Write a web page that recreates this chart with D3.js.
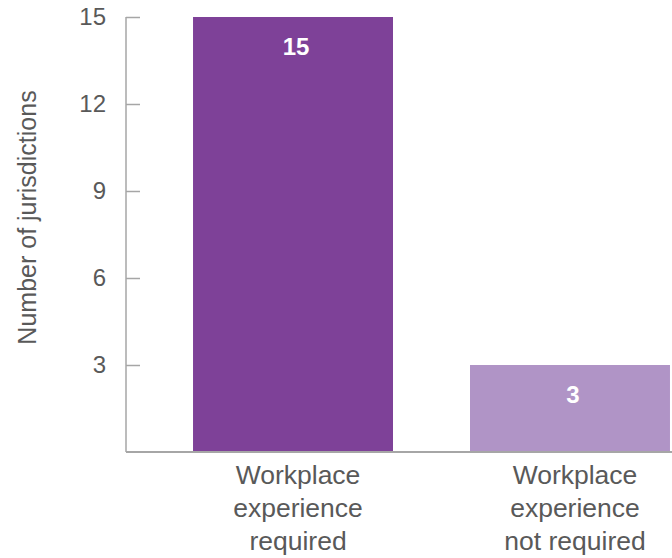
<!DOCTYPE html>
<html>
<head>
<meta charset="utf-8">
<script src="https://cdn.jsdelivr.net/npm/d3@7"></script>
<style>
  html, body { margin: 0; padding: 0; background: #ffffff; }
  svg { display: block; font-family: "Liberation Sans", Arial, sans-serif; }
</style>
</head>
<body>
<svg id="chart" width="672" height="558"></svg>
<script>
// Jurisdictions by workplace experience requirement
const categories = [
  ["Workplace", "experience", "required"],
  ["Workplace", "experience", "not required"]
];
const values = [15, 3];
const barColors = ["#7e4198", "#b094c6"];
const yTicks = [3, 6, 9, 12, 15];
const yTitle = "Number of jurisdictions";

const svg = d3.select("#chart");
const keys = categories.map(c => c.join(" "));

const x = d3.scaleBand()
  .domain(keys)
  .range([126, 737])
  .paddingInner(0.278)
  .paddingOuter(0.242);

const y = d3.scaleLinear().domain([0, 15]).range([452, 17]);

const axisColor = "#a6a6a6";
const textColor = "#595959";

// Bars
svg.selectAll("rect.bar")
  .data(values)
  .join("rect")
  .attr("class", "bar")
  .attr("x", (d, i) => x(keys[i]))
  .attr("y", d => y(d))
  .attr("width", x.bandwidth())
  .attr("height", d => y(0) - y(d))
  .attr("fill", (d, i) => barColors[i]);

// Value labels inside the bars
svg.selectAll("text.value")
  .data(values)
  .join("text")
  .attr("class", "value")
  .attr("x", (d, i) => x(keys[i]) + x.bandwidth() / 2 + 3)
  .attr("y", d => y(d) + 30)
  .attr("dy", "0.35em")
  .attr("text-anchor", "middle")
  .attr("fill", "#ffffff")
  .attr("font-weight", "bold")
  .attr("font-size", 24)
  .text(d => d);

// Y axis with inward ticks
const yAxis = d3.axisRight(y).tickValues(yTicks).tickSize(14).tickFormat("");
const gy = svg.append("g").attr("transform", "translate(126,0)").call(yAxis);
gy.select(".domain").remove();
gy.selectAll(".tick line").attr("stroke", axisColor).attr("stroke-width", 1.5);
gy.append("line")
  .attr("x1", 0).attr("x2", 0)
  .attr("y1", y(15)).attr("y2", y(0))
  .attr("stroke", axisColor).attr("stroke-width", 1.5);

// Tick labels
svg.selectAll("text.ytick")
  .data(yTicks)
  .join("text")
  .attr("class", "ytick")
  .attr("x", 106)
  .attr("y", d => y(d))
  .attr("dy", "0.35em")
  .attr("text-anchor", "end")
  .attr("fill", textColor)
  .attr("font-size", 24)
  .text(d => d);

// Baseline
svg.append("line")
  .attr("x1", 126).attr("x2", 672)
  .attr("y1", y(0)).attr("y2", y(0))
  .attr("stroke", axisColor).attr("stroke-width", 2);

// Y axis title
svg.append("text")
  .attr("transform", `translate(27,${(y(0) + y(15)) / 2 - 17}) rotate(-90)`)
  .attr("dy", "0.35em")
  .attr("text-anchor", "middle")
  .attr("fill", textColor)
  .attr("font-size", 25)
  .text(yTitle);

// Category labels
categories.forEach((lines, i) => {
  const t = svg.append("text")
    .attr("text-anchor", "middle")
    .attr("fill", textColor)
    .attr("font-size", 26.5);
  lines.forEach((ln, j) => {
    t.append("tspan")
      .attr("x", x(keys[i]) + x.bandwidth() / 2 + 5)
      .attr("y", 475 + j * 33)
      .attr("dy", "0.35em")
      .text(ln);
  });
});
</script>
</body>
</html>
